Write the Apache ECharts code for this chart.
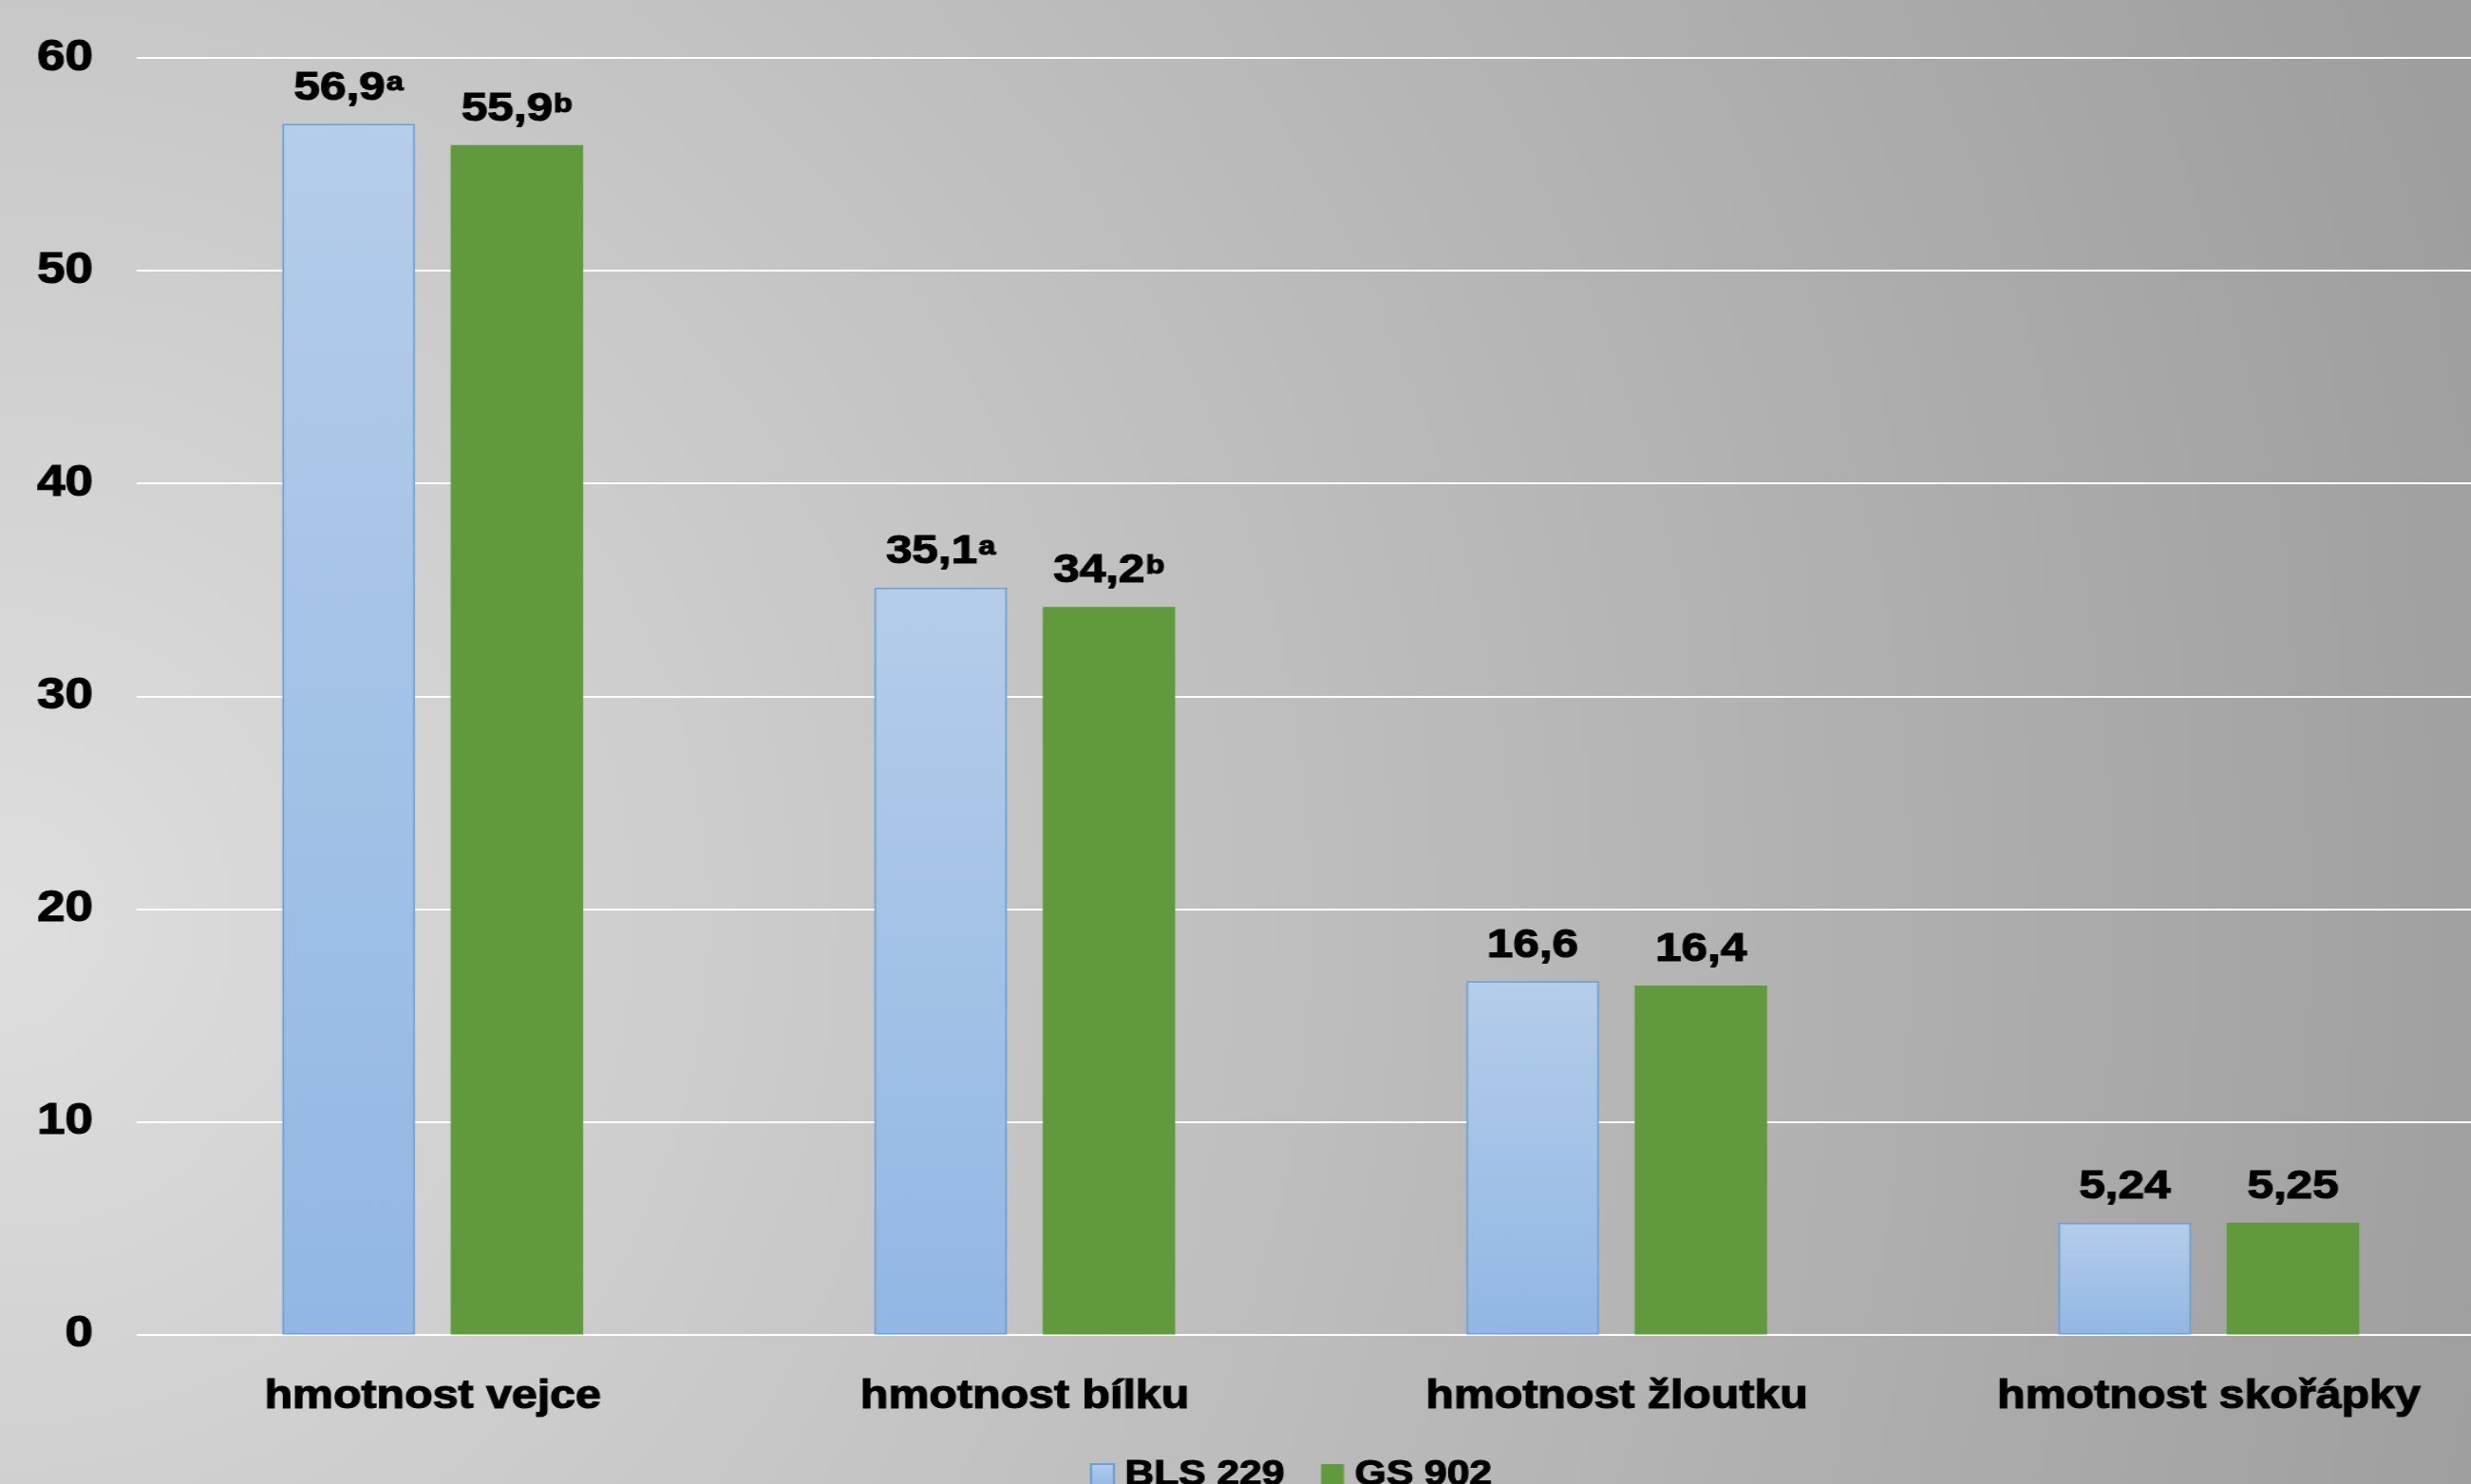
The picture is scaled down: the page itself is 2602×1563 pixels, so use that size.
<!DOCTYPE html>
<html>
<head>
<meta charset="utf-8">
<script src="https://cdn.jsdelivr.net/npm/echarts@6/dist/echarts.min.js"></script>
<style>
html,body{margin:0;padding:0;width:2602px;height:1563px;overflow:hidden;}
body{background:radial-gradient(circle at 0% 62%, #dedede 0px, #9e9e9e 2700px);}
#c{width:2300px;height:1563px;transform:scaleX(1.15);transform-origin:0 0;}
</style>
</head>
<body>
<div id="c"></div>
<script>
const categories = ['hmotnost vejce', 'hmotnost bílku', 'hmotnost žloutku', 'hmotnost skořápky'];
const seriesNames = ['BLS 229', 'GS 902'];
const blsValues = [56.9, 35.1, 16.6, 5.24];
const gsValues = [55.9, 34.2, 16.4, 5.25];
const blsLetters = ['a', 'a', '', ''];
const gsLetters = ['b', 'b', '', ''];
const yMin = 0, yMax = 60, yInterval = 10;

const FONT = '"Liberation Sans", Arial, sans-serif';
const chart = echarts.init(document.getElementById('c'), null, {renderer: 'canvas'});

function fmt(v) { return String(v).replace('.', ','); }
function labelFor(letters) {
  return function (p) {
    const sup = letters[p.dataIndex];
    return '{v|' + fmt(p.value) + '}' + (sup ? '{s|' + sup + '}' : '');
  };
}
const heavy = {fontWeight: 'bold', color: '#000', fontFamily: FONT, textBorderColor: '#000', textBorderWidth: 1.2};
const richStyle = {
  v: Object.assign({fontSize: 43, lineHeight: 43}, heavy),
  s: Object.assign({fontSize: 28, lineHeight: 30, verticalAlign: 'top', padding: [2, 0, 0, 1]}, heavy)
};

chart.setOption({
  backgroundColor: 'transparent',
  animation: false,
  grid: {left: 125.2, width: 2168.4, top: 61, bottom: 157.5, containLabel: false},
  legend: {
    data: seriesNames,
    top: 1530,
    left: 993,
    itemWidth: 21,
    itemHeight: 24,
    itemGap: 33,
    icon: 'rect',
    textStyle: Object.assign({fontSize: 37, padding: [0, 0, 0, 5]}, heavy)
  },
  xAxis: {
    type: 'category',
    data: categories,
    axisLine: {show: false},
    axisTick: {show: false},
    axisLabel: Object.assign({fontSize: 42, margin: 45}, heavy)
  },
  yAxis: {
    type: 'value',
    min: yMin, max: yMax, interval: yInterval,
    axisLine: {show: false},
    axisTick: {show: false},
    splitLine: {show: true, lineStyle: {color: '#ffffff', width: 2}},
    axisLabel: Object.assign({fontSize: 46, margin: 40}, heavy)
  },
  series: [
    {
      name: seriesNames[0],
      type: 'bar',
      data: blsValues,
      barWidth: 121.3,
      barGap: '27%',
      itemStyle: {
        color: new echarts.graphic.LinearGradient(0, 0, 0, 1, [
          {offset: 0, color: '#b4cdea'},
          {offset: 1, color: '#92b7e4'}
        ]),
        borderColor: '#6a9fd8',
        borderWidth: 1.5
      },
      label: {show: true, position: 'top', distance: 16, formatter: labelFor(blsLetters), rich: richStyle}
    },
    {
      name: seriesNames[1],
      type: 'bar',
      data: gsValues,
      barWidth: 121.3,
      itemStyle: {color: '#619a3d'},
      label: {show: true, position: 'top', distance: 16, formatter: labelFor(gsLetters), rich: richStyle}
    }
  ]
});
</script>
</body>
</html>
